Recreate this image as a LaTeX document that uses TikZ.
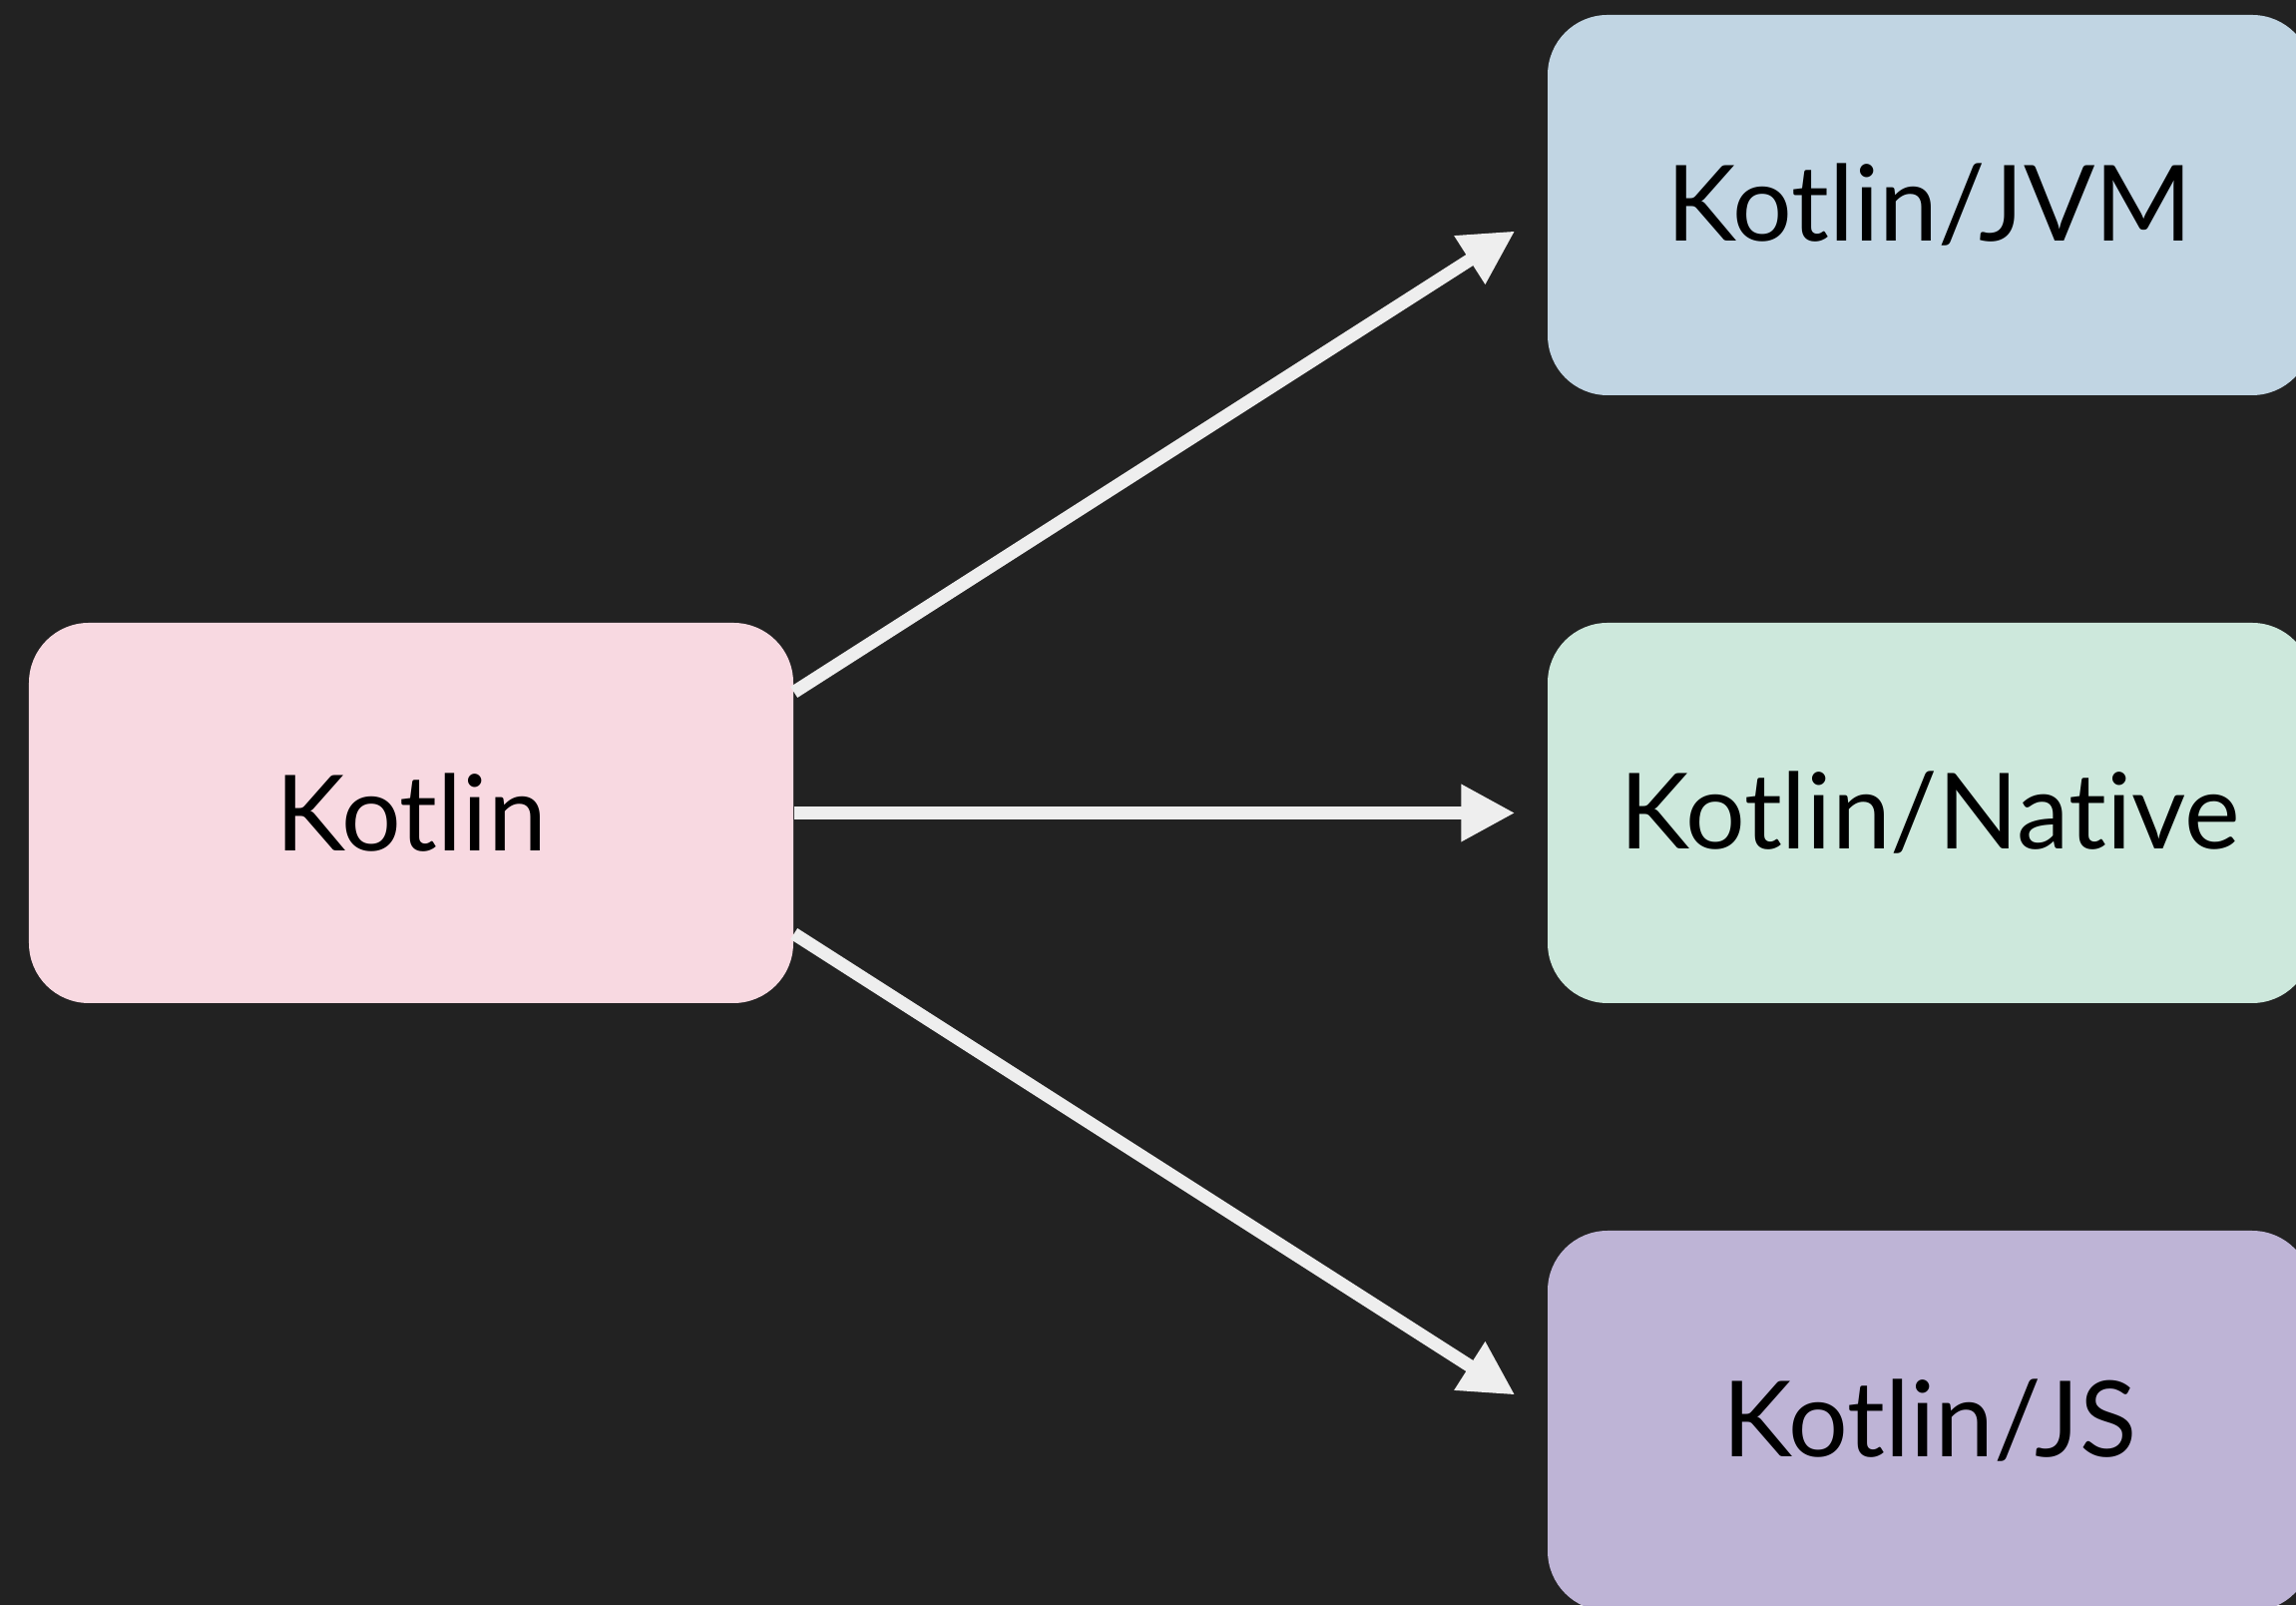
\documentclass[tikz,border=0pt]{standalone}
\usepackage{fontspec}
\setmainfont{Lato}[Ligatures=NoCommon]
\usetikzlibrary{arrows.meta}
\definecolor{bgdark}{HTML}{222222}
\definecolor{arrowgray}{HTML}{EEEEEE}
\definecolor{kpink}{HTML}{F8D9E1}
\definecolor{kblue}{HTML}{C1D5E3}
\definecolor{kgreen}{HTML}{CDE8DC}
\definecolor{kpurple}{HTML}{BEB4D6}
\tikzset{
  platform/.style={rectangle, rounded corners=0.6cm, minimum width=7.66cm,
    minimum height=3.81cm, inner sep=0pt, text=black,
    font=\fontsize{30}{36}\selectfont},
  flow/.style={draw=arrowgray, line width=0.13cm,
    -{Triangle[length=0.54cm, width=0.54cm]}, arrowgray}
}
\begin{document}
\begin{tikzpicture}
  \useasboundingbox (0,0) rectangle (23.01,16.08);
  \fill[bgdark] (0,0) rectangle (23.01,16.08);

  % source language and its three compilation targets
  \node[platform, fill=kpink]   (kotlin) at (4.12,7.935)  {Kotlin};
  \node[platform, fill=kblue]   (jvm)    at (19.34,14.025) {Kotlin/JVM};
  \node[platform, fill=kgreen]  (native) at (19.34,7.935)  {Kotlin/Native};
  \node[platform, fill=kpurple] (js)     at (19.34,1.845)  {Kotlin/JS};

  % connectors
  \draw[flow] ([yshift=1.21cm]kotlin.east) -- ([xshift=-0.32cm,yshift=-0.26cm]jvm.west);
  \draw[flow] (kotlin.east) -- ([xshift=-0.32cm]native.west);
  \draw[flow] ([yshift=-1.21cm]kotlin.east) -- ([xshift=-0.32cm,yshift=0.26cm]js.west);
\end{tikzpicture}
\end{document}
